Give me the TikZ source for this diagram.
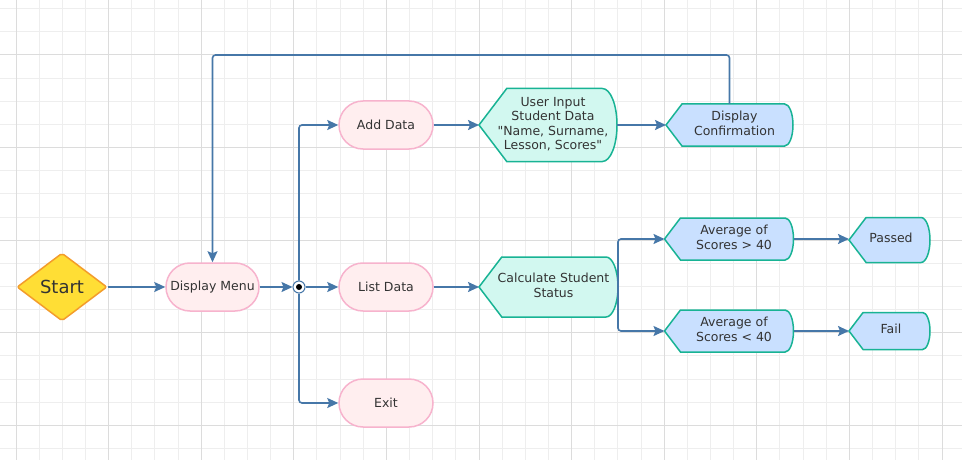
\documentclass[tikz,border=0pt]{standalone}
\usepackage{fontspec}
\setmainfont[Ligatures=TeXOff]{DejaVu Sans}
\usetikzlibrary{arrows.meta,shapes.geometric,shapes.misc}

\definecolor{linkblue}{HTML}{4677A8}
\definecolor{pinkline}{HTML}{F7B3CD}
\definecolor{pinkfill}{HTML}{FFEEEF}
\definecolor{tealline}{HTML}{18B394}
\definecolor{mintfill}{HTML}{D2F8F0}
\definecolor{bluefill}{HTML}{C9E0FF}
\definecolor{startfill}{HTML}{FFDE35}
\definecolor{startline}{HTML}{F39C2B}
\definecolor{ink}{HTML}{333333}
\definecolor{gridminor}{HTML}{EEEEEE}
\definecolor{gridmajor}{HTML}{DCDCDC}

% text of a display box, pushed a little to the right
\newcommand{\dtext}[2][10pt]{\hspace*{#1}\begin{tabular}{@{}c@{}}#2\end{tabular}}

% pointed on the left, rounded on the right
\makeatletter
\newdimen\dispxa \newdimen\dispya \newdimen\dispxb \newdimen\dispyb
\newdimen\dispxl \newdimen\dispxr \newdimen\dispxc \newdimen\dispym
\newdimen\dispcu \newdimen\dispcd
\pgfdeclareshape{display}{%
  \inheritsavedanchors[from=rectangle]%
  \inheritanchorborder[from=rectangle]%
  \inheritanchor[from=rectangle]{center}%
  \inheritanchor[from=rectangle]{north}%
  \inheritanchor[from=rectangle]{south}%
  \inheritanchor[from=rectangle]{east}%
  \inheritanchor[from=rectangle]{west}%
  \inheritanchor[from=rectangle]{text}%
  \inheritanchor[from=rectangle]{base}%
  \backgroundpath{%
    \southwest \dispxa=\pgf@x \dispya=\pgf@y
    \northeast \dispxb=\pgf@x \dispyb=\pgf@y
    \dispym=\dispyb \advance\dispym by -\dispya
    \dispxl=.38\dispym \advance\dispxl by \dispxa
    \dispxr=-.2\dispym \advance\dispxr by \dispxb
    \dispxc=.1105\dispym \advance\dispxc by \dispxr
    \dispcu=.2761\dispym
    \dispym=.5\dispym \advance\dispym by \dispya
    \dispcd=-\dispcu \advance\dispcd by \dispym
    \advance\dispcu by \dispym
    \pgfpathmoveto{\pgfqpoint{\dispxa}{\dispym}}%
    \pgfpathlineto{\pgfqpoint{\dispxl}{\dispyb}}%
    \pgfpathlineto{\pgfqpoint{\dispxr}{\dispyb}}%
    \pgfpathcurveto{\pgfqpoint{\dispxc}{\dispyb}}{\pgfqpoint{\dispxb}{\dispcu}}{\pgfqpoint{\dispxb}{\dispym}}%
    \pgfpathcurveto{\pgfqpoint{\dispxb}{\dispcd}}{\pgfqpoint{\dispxc}{\dispya}}{\pgfqpoint{\dispxr}{\dispya}}%
    \pgfpathlineto{\pgfqpoint{\dispxl}{\dispya}}%
    \pgfpathclose
  }%
}
\makeatother

\begin{document}
\begin{tikzpicture}
    [x=1pt, y=-1pt,
     termbox/.style={rounded rectangle, draw=pinkline, fill=pinkfill, line width=1.5pt,
                     minimum width=93pt, minimum height=48pt, inner sep=0pt,
                     text=ink, font=\fontsize{12.5}{14.5}\selectfont},
     dispbox/.style={display, draw=tealline, fill=#1, line width=1.5pt,
                     inner sep=0pt, outer sep=0pt,
                     text=ink, font=\fontsize{12.5}{14.5}\selectfont},
     link/.style={draw=linkblue, line width=1.6pt, rounded corners=3pt,
                  -{Stealth[length=11pt,width=10pt,inset=2pt]}}]
    \useasboundingbox (0,0) rectangle (962,460);
    \fill[white] (0,0) rectangle (962,460);

    % grid
    \foreach \i in {-1,...,41}
        \draw[gridminor, line width=1pt] ({16+23.15*\i},0) -- ({16+23.15*\i},460);
    \foreach \j in {-2,...,17}
        \draw[gridminor, line width=1pt] (0,{55+23.15*\j}) -- (962,{55+23.15*\j});
    \foreach \i in {0,...,10}
        \draw[gridmajor, line width=1pt] ({16+92.6*\i},0) -- ({16+92.6*\i},460);
    \foreach \j in {0,...,4}
        \draw[gridmajor, line width=1pt] (0,{55+92.6*\j}) -- (962,{55+92.6*\j});

    \node[diamond, draw=startline, fill=startfill, line width=1.5pt, rounded corners=2pt,
          minimum width=90pt, minimum height=68pt, inner sep=1pt,
          text=ink, font=\fontsize{18}{20}\selectfont] (start) at (62,287) {Start};

    \node[termbox] (menu) at (212.5,287) {Display Menu};
    \node[circle, draw=linkblue, fill=white, line width=1pt, minimum size=12pt, inner sep=0pt,
          path picture={\fill[black] (path picture bounding box.center) circle (3pt);}] (hub) at (299,287) {};

    \node[termbox, minimum width=94pt] (add) at (386,125) {Add Data};
    \node[termbox, minimum width=94pt] (list) at (386,287) {List Data};
    \node[termbox, minimum width=94pt] (exit) at (386,403) {Exit};

    \node[dispbox=mintfill, minimum width=138pt, minimum height=73pt] (input) at (548,125)
        {\dtext{User Input\\Student Data\\"Name, Surname,\\Lesson, Scores"}};
    \node[dispbox=bluefill, minimum width=127pt, minimum height=42pt] (conf) at (729.5,125)
        {\dtext{Display\\Confirmation}};
    \node[dispbox=mintfill, minimum width=139pt, minimum height=60pt] (calc) at (548.5,287)
        {\dtext{Calculate Student\\Status}};

    \node[dispbox=bluefill, minimum width=129pt, minimum height=42pt] (avghi) at (729,239)
        {\dtext{Average of\\Scores > 40}};
    \node[dispbox=bluefill, minimum width=129pt, minimum height=42pt] (avglo) at (729,331)
        {\dtext{Average of\\Scores < 40}};
    \node[dispbox=bluefill, minimum width=81pt, minimum height=45pt] (pass) at (889.5,240)
        {\dtext[3pt]{Passed}};
    \node[dispbox=bluefill, minimum width=81pt, minimum height=37pt] (fail) at (889.5,331)
        {\dtext[3pt]{Fail}};

    \coordinate (looptop) at (212.5,55);

    \draw[link] (start.east) -- (menu.west);
    \draw[link] (menu.east) -- (hub.west);
    \draw[link] (hub.north) |- (add.west);
    \draw[link] (hub.east) -- (list.west);
    \draw[link] (hub.south) |- (exit.west);
    \draw[link] (add.east) -- (input.west);
    \draw[link] (input.east) -- (conf.west);
    \draw[link] (conf.north) |- (looptop) -- (menu.north);
    \draw[link] (list.east) -- (calc.west);
    \draw[link] (calc.east) |- (avghi.west);
    \draw[link] (calc.east) |- (avglo.west);
    \draw[link] (avghi.east) -- (avghi.east -| pass.west);
    \draw[link] (avglo.east) -- (fail.west);
\end{tikzpicture}
\end{document}
